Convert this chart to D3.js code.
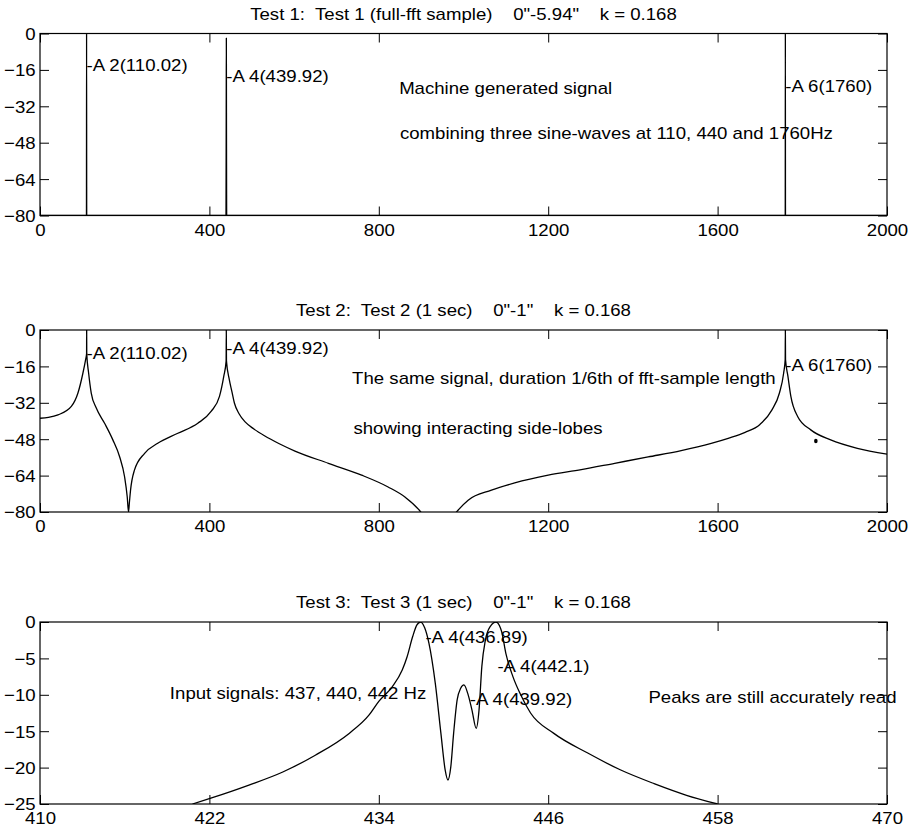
<!DOCTYPE html>
<html><head><meta charset="utf-8">
<script src="https://cdn.jsdelivr.net/npm/d3@7"></script>
<style>
body{margin:0;background:#fff;}
text{font-family:"Liberation Sans",Arial,Helvetica,sans-serif;fill:#000;white-space:pre;}
</style></head><body>
<svg id="c" width="915" height="830"></svg>
<script>
// ---------- data ----------
const titles = [
  'Test 1:  Test 1 (full-fft sample)    0"-5.94"    k = 0.168',
  'Test 2:  Test 2 (1 sec)    0"-1"    k = 0.168',
  'Test 3:  Test 3 (1 sec)    0"-1"    k = 0.168'
];
const xTicks1 = [0, 400, 800, 1200, 1600, 2000];
const yTicks1 = [0, -16, -32, -48, -64, -80];
const xTicks3 = [410, 422, 434, 446, 458, 470];
const yTicks3 = [0, -5, -10, -15, -20, -25];

// Test 1: line spectrum (frequency Hz, level dB)
const test1Freq = [0, 109.7, 110, 110.3, 439.2, 439.7, 440, 440.3, 440.8, 1759.7, 1760, 1760.3, 2000];
const test1Db   = [-80, -80, 0, -80, -80, -35, -2, -35, -80, -80, 0, -80, -80];

// Test 2: truncated signal spectrum
const test2Freq = [0, 20, 42.5, 74, 89.6, 101.4, 107.7, 110, 110.2, 110.4, 114.8, 121, 132.9, 152.5, 172, 188, 199.7, 206, 209, 211, 213.8, 223, 247, 278, 325.5, 372.6, 404, 423.8, 434, 439.5, 439.9, 440.3, 447, 453, 459, 470, 485, 505, 530, 565, 602, 681, 759.4, 822, 861.6, 899, 920, 960, 983.5, 1011, 1066, 1121, 1200, 1278, 1357, 1436, 1514, 1585, 1625, 1665, 1700, 1728, 1746, 1756, 1759.6, 1760, 1760.4, 1766, 1773, 1789, 1820, 1867, 1930, 2000];
const test2Db   = [-38.8, -38.4, -37.3, -33.6, -27.7, -18.9, -13, -10.5, 0, -10.5, -18.9, -27.7, -34.3, -41, -48.3, -55.7, -64.5, -73.4, -80, -76, -70.4, -61.6, -54.2, -49.8, -45.4, -41, -35.8, -29.2, -20.3, -13.7, 0, -13.7, -21.8, -27, -32.1, -36.8, -40.5, -43.5, -46.5, -50, -53.2, -58.6, -63.8, -69, -73.4, -80, -86, -86, -80, -74.8, -70.4, -67.2, -63.8, -61.4, -58.6, -55.8, -53, -49.8, -47.6, -45, -41.5, -35.2, -27.7, -18.9, -13, 0, -13, -20.3, -29.2, -38, -43.9, -48.3, -52, -54.6];
const strayMark = [1832, -48.8];

// Test 3: zoomed spectrum around 440 Hz
const test3Freq = [420.8, 422.1, 424.8, 427.2, 429.5, 431.9, 433.3, 434, 434.95, 435.66, 436, 436.4, 436.7, 436.96, 437.25, 437.55, 438.0, 438.4, 438.7, 438.9, 439.1, 439.3, 439.55, 439.8, 440.03, 440.3, 440.6, 440.9, 441.1, 441.3, 441.55, 441.9, 442.3, 442.7, 443.0, 443.5, 444.0, 444.75, 446.4, 448.8, 451.1, 453.5, 455.8, 458.0];
const test3Db   = [-25, -24.2, -22.4, -20.6, -18.3, -15.3, -12.8, -10.9, -8.9, -6.6, -4.8, -2.0, -0.4, 0, -0.8, -2.9, -8.4, -15.3, -20.3, -21.7, -19.9, -15.3, -10.7, -9.1, -8.65, -9.8, -12.1, -14.6, -12.1, -6.1, -2.5, -0.6, 0, -1.3, -4.3, -7.5, -9.8, -12.5, -15.3, -18.0, -20.3, -22.2, -23.8, -25];

// peak labels and notes (text, x, y in data units)
const labels1 = [['-A 2(110.02)', 110, -14], ['-A 4(439.92)', 440, -18.6], ['-A 6(1760)', 1760, -23]];
const notes1  = [['Machine generated signal', 848, -24], ['combining three sine-waves at 110, 440 and 1760Hz', 850, -43.6]];
const labels2 = [['-A 2(110.02)', 110, -10.3], ['-A 4(439.92)', 440, -8], ['-A 6(1760)', 1760, -15.5]];
const notes2  = [['The same signal, duration 1/6th of fft-sample length', 737, -21.2], ['showing interacting side-lobes', 740, -43.3]];
const labels3 = [['-A 4(436.89)', 437.3, -2.0], ['-A 4(442.1)', 442.4, -6.1], ['-A 4(439.92)', 440.45, -10.6]];
const notes3  = [['Input signals: 437, 440, 442 Hz', 419.2, -9.8], ['Peaks are still accurately read', 453.1, -10.3]];

// ---------- drawing ----------
const FS = 17, SX = 1.095;
const svg = d3.select('#c');
svg.append('rect').attr('width', 915).attr('height', 830).attr('fill', '#fff');

function addText(g, str, px, py, anchor) {
  g.append('text').attr('transform', `translate(${px},${py}) scale(${SX},1)`)
    .attr('dy', '0.35em').attr('text-anchor', anchor || 'start')
    .attr('font-size', FS).text(str);
}

const panels = [
  {title: titles[0], top: 33.5, xd: [0, 2000], yd: [-80, 0], xt: xTicks1, yt: yTicks1, fx: test1Freq, fy: test1Db, labels: labels1, notes: notes1, titleY: 14},
  {title: titles[1], top: 330, xd: [0, 2000], yd: [-80, 0], xt: xTicks1, yt: yTicks1, fx: test2Freq, fy: test2Db, labels: labels2, notes: notes2, titleY: 310, stray: strayMark},
  {title: titles[2], top: 622, xd: [410, 470], yd: [-25, 0], xt: xTicks3, yt: yTicks3, fx: test3Freq, fy: test3Db, labels: labels3, notes: notes3, titleY: 602}
];
const L = 40, R = 887, H = 182;

panels.forEach((p, i) => {
  const g = svg.append('g');
  const x = d3.scaleLinear().domain(p.xd).range([L, R]);
  const y = d3.scaleLinear().domain(p.yd).range([p.top + H, p.top]);
  const cid = 'clip' + i;
  svg.append('clipPath').attr('id', cid).append('rect')
    .attr('x', L).attr('y', p.top).attr('width', R - L).attr('height', H);

  // axes with inward ticks (both sides)
  const tl = 9;
  const axB = d3.axisBottom(x).tickValues(p.xt).tickSize(-tl).tickPadding(8).tickFormat(d3.format('d'));
  const axT = d3.axisTop(x).tickValues(p.xt).tickSize(-tl).tickFormat('');
  const axL = d3.axisLeft(y).tickValues(p.yt).tickSize(-tl).tickPadding(4).tickFormat(d3.format('d'));
  const axR = d3.axisRight(y).tickValues(p.yt).tickSize(-tl).tickFormat('');
  const gb = g.append('g').attr('transform', `translate(0,${p.top + H})`).call(axB);
  const gt = g.append('g').attr('transform', `translate(0,${p.top})`).call(axT);
  const gl = g.append('g').attr('transform', `translate(${L},0)`).call(axL);
  const gr = g.append('g').attr('transform', `translate(${R},0)`).call(axR);
  [gb, gt, gl, gr].forEach(a => {
    a.select('.domain').remove();
    a.selectAll('line').attr('stroke', '#000').attr('stroke-width', 1);
    a.selectAll('text').attr('font-size', FS).attr('font-family', '"Liberation Sans",Arial,sans-serif')
      .attr('fill', '#000').attr('transform', `scale(${SX},1)`);
  });
  gb.selectAll('text').attr('dy', '0.72em');
  gl.selectAll('text').attr('dy', '0.35em');

  g.append('rect').attr('x', L).attr('y', p.top).attr('width', R - L).attr('height', H)
    .attr('fill', 'none').attr('stroke', '#000').attr('stroke-width', 1.2);

  // curve
  const pts = p.fx.map((f, k) => [f, p.fy[k]]);
  const line = d3.line().x(d => x(d[0])).y(d => y(d[1])).curve(d3.curveMonotoneX);
  g.append('path').attr('d', line(pts)).attr('clip-path', `url(#${cid})`)
    .attr('fill', 'none').attr('stroke', '#000').attr('stroke-width', 1.3).attr('stroke-linejoin', 'round');

  if (p.stray) {
    g.append('ellipse').attr('cx', x(p.stray[0])).attr('cy', y(p.stray[1])).attr('rx', 1.8).attr('ry', 2.2).attr('fill', '#000');
  }

  // labels
  p.labels.concat(p.notes).forEach(t => addText(g, t[0], x(t[1]), y(t[2]), 'start'));

  // title
  addText(g, p.title, (L + R) / 2, p.titleY, 'middle');
});
</script>
</body></html>
